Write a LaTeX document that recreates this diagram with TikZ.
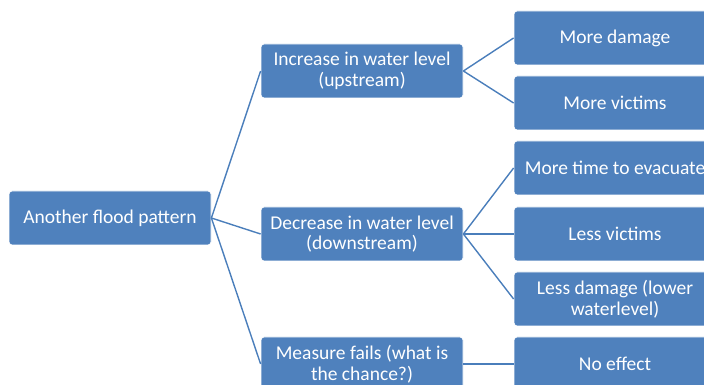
\documentclass[tikz,border=0pt]{standalone}
\usepackage{fontspec}
\setmainfont{Carlito}
\usepackage{xcolor}
\usetikzlibrary{positioning}
\definecolor{boxc}{HTML}{4F81BD}
\definecolor{linec}{HTML}{4A7EBB}

\begin{document}
\begin{tikzpicture}[x=1pt, y=1pt,
  font=\fontsize{19.5}{20.5}\selectfont,
  box/.style={draw=white, line width=0.8pt, fill=boxc, rounded corners=3pt,
              minimum height=54pt, minimum width=202pt, inner sep=2pt,
              align=center, text=white},
  link/.style={draw=linec, line width=1.4pt}]
\useasboundingbox (0,0) rectangle (704,385);
\clip (0,0) rectangle (704,385);
% left and middle column
\node[box] (root) at (110,167) {Another flood pattern};
\node[box] (inc)  at (362,314) {Increase in water level\\(upstream)};
\node[box] (dec)  at (362,151) {Decrease in water level\\(downstream)};
\node[box] (fail) at (362,21)  {Measure fails (what is\\the chance?)};
% right column
\node[box] (dmg)     at (615,347) {More damage};
\node[box] (vic)     at (615,282) {More victims};
\node[box] (evac)    at (615,217) {More time to evacuate};
\node[box] (lessvic) at (615,151) {Less victims};
\node[box] (lessdmg) at (615,86)  {Less damage (lower\\waterlevel)};
\node[box] (noeff)   at (615,21)  {No effect};
% connectors
\draw[link] (root.east) -- (inc.west);
\draw[link] (root.east) -- (dec.west);
\draw[link] (root.east) -- (fail.west);
\draw[link] (inc.east) -- (dmg.west);
\draw[link] (inc.east) -- (vic.west);
\draw[link] (dec.east) -- (evac.west);
\draw[link] (dec.east) -- (lessvic.west);
\draw[link] (dec.east) -- (lessdmg.west);
\draw[link] (fail.east) -- (noeff.west);
\end{tikzpicture}
\end{document}
